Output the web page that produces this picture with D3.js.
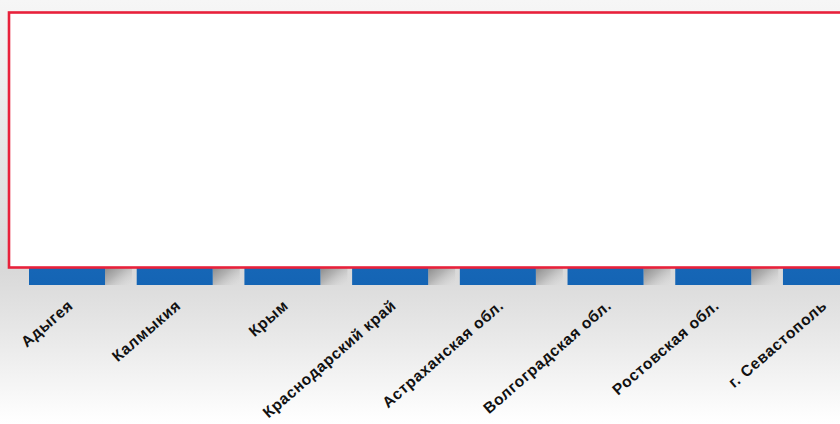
<!DOCTYPE html>
<html><head><meta charset="utf-8">
<script src="https://cdn.jsdelivr.net/npm/d3@7/dist/d3.min.js"></script>
<style>html,body{margin:0;padding:0;background:#fff;}svg{display:block;}</style>
</head><body>
<script>
const categories = ["Адыгея","Калмыкия","Крым","Краснодарский край","Астраханская обл.","Волгоградская обл.","Ростовская обл.","г. Севастополь"];
const values = [10, 10, 10, 10, 10, 10, 10, 10];

const W = 840, H = 424;
const svg = d3.select("body").append("svg").attr("width", W).attr("height", H);
const defs = svg.append("defs");

const bg = defs.append("linearGradient").attr("id","bg").attr("x1",0).attr("y1",0).attr("x2",0).attr("y2",1);
[[0,"#f6f6f6"],[0.64,"#d9d9d9"],[0.8,"#e9e9e9"],[0.96,"#fbfbfb"],[1,"#ffffff"]].forEach(s=>bg.append("stop").attr("offset",s[0]).attr("stop-color",s[1]));
const barG = defs.append("linearGradient").attr("id","barG").attr("x1",0).attr("y1",0).attr("x2",0).attr("y2",1);
[[0,"#2f83cf"],[1,"#1464b4"]].forEach(s=>barG.append("stop").attr("offset",s[0]).attr("stop-color",s[1]));
const sh = defs.append("linearGradient").attr("id","sh").attr("x1",0).attr("y1",0).attr("x2",1).attr("y2",1);
[[0,"#7e7e7e",1],[0.45,"#a8a8a8",0.8],[1,"#d9d9d9",0]].forEach(s=>sh.append("stop").attr("offset",s[0]).attr("stop-color",s[1]).attr("stop-opacity",s[2]));

svg.append("rect").attr("width",W).attr("height",H).attr("fill","url(#bg)");

const x = d3.scaleBand().domain(categories).range([29, 859]).paddingInner(0.294).paddingOuter(0);
const base = 285;
const y = d3.scaleLinear().domain([0, 10]).range([base, 60]);

// shadows
svg.selectAll("rect.sh").data(categories).join("rect").attr("class","sh")
  .attr("x", d => x(d) + x.bandwidth()).attr("y", 264).attr("width", 27).attr("height", base - 264)
  .attr("fill","url(#sh)");

svg.selectAll("rect.bar").data(values).join("rect").attr("class","bar")
  .attr("x",(d,i)=>x(categories[i])).attr("y",d=>y(d)).attr("width",x.bandwidth()).attr("height",d=>base-y(d))
  .attr("fill","url(#barG)");

// white panel with red border
svg.append("rect").attr("x",9).attr("y",12.5).attr("width",860).attr("height",255)
  .attr("fill","#ffffff").attr("stroke","#e8213b").attr("stroke-width",2.6);

// labels
svg.selectAll("text.lab").data(categories).join("text").attr("class","lab")
  .attr("transform", d => `translate(${x(d)+x.bandwidth()/2+7},${307}) rotate(-41)`)
  .attr("text-anchor","end")
  .attr("font-family","Liberation Sans, Arial, sans-serif")
  .attr("font-weight","bold").attr("font-size",15.5).attr("letter-spacing",0.7).attr("fill","#111")
  .text(d=>d);
</script>
</body></html>
